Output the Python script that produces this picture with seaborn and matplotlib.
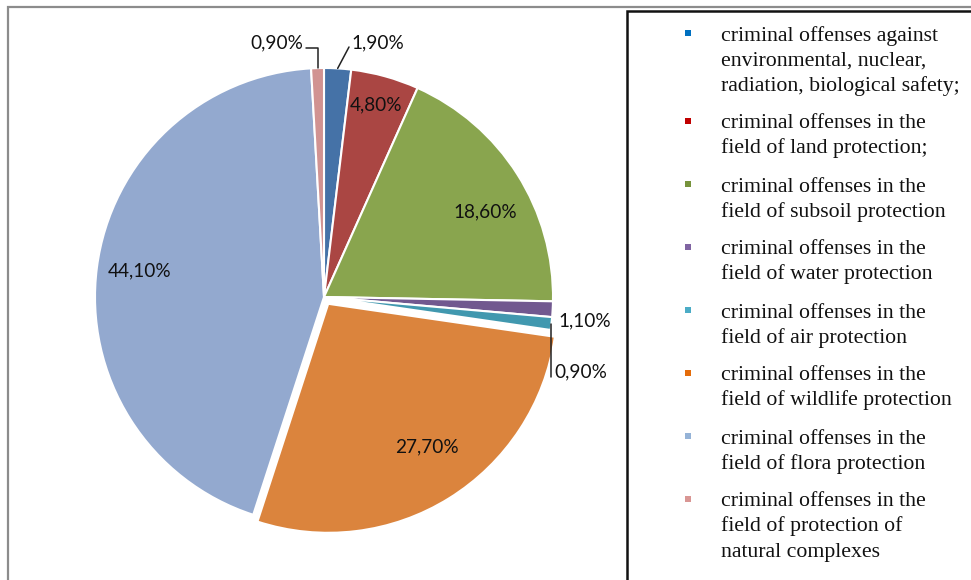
import matplotlib
matplotlib.use("Agg")
import numpy as np
import matplotlib.pyplot as plt
import seaborn as sns
from matplotlib.patches import Rectangle

# Shares of environmental criminal offenses, percent
categories = [
    "environmental, nuclear, radiation, biological safety",
    "land protection",
    "subsoil protection",
    "water protection",
    "air protection",
    "wildlife protection",
    "flora protection",
    "protection of natural complexes",
]
shares = [1.9, 4.8, 18.6, 1.1, 0.9, 27.7, 44.1, 0.9]
legend_labels = [
    "criminal offenses against\nenvironmental, nuclear,\nradiation, biological safety;",
    "criminal offenses in the\nfield of land protection;",
    "criminal offenses in the\nfield of subsoil protection",
    "criminal offenses in the\nfield of water protection",
    "criminal offenses in the\nfield of air protection",
    "criminal offenses in the\nfield of wildlife protection",
    "criminal offenses in the\nfield of flora protection",
    "criminal offenses in the\nfield of protection of\nnatural complexes",
]

wedge_colors = ["#4572A7", "#AA4643", "#89A54E", "#71588F",
                "#4198AF", "#DB843D", "#93A9CF", "#D19392"]
marker_colors = ["#0070C0", "#C00000", "#77933C", "#8064A2",
                 "#4BACC6", "#E46C0A", "#95B3D7", "#D99694"]

sns.set_theme(style="white")
plt.rcParams["font.family"] = ["Lato", "DejaVu Sans"]

W, H = 971, 580
fig = plt.figure(figsize=(W / 100, H / 100), dpi=100)
ax = fig.add_axes([0, 0, 1, 1])


def Y(y):
    """Convert a top-down pixel row into the axes' bottom-up coordinate."""
    return H - y


cx, cy, R = 324, Y(297), 229
explode = [0, 0, 0, 0, 0, 8, 0, 0]
wedges, _ = ax.pie(
    shares, colors=wedge_colors, startangle=90, counterclock=False,
    center=(cx, cy), radius=R, explode=explode,
    wedgeprops=dict(edgecolor="white", linewidth=1.5),
)
ax.set_xlim(0, W)
ax.set_ylim(0, H)
ax.set_aspect("auto")
ax.axis("off")

# Value labels: (x, y, horizontal alignment)
label_pos = [(351, 43, "left"), (376, 105, "center"), (485, 212, "center"),
             (558, 321, "left"), (554, 372, "left"), (427, 447, "center"),
             (140, 271, "center"), (303, 43, "right")]
for v, (x, y, ha) in zip(shares, label_pos):
    ax.text(x, Y(y), f"{v:.2f}%".replace(".", ","), ha=ha, va="center",
            fontsize=13.7, color="#111111")


def rim_point(w):
    th = np.deg2rad((w.theta1 + w.theta2) / 2)
    x0, y0 = w.center
    return x0 + w.r * np.cos(th), y0 + w.r * np.sin(th)


# Leader lines for the small outside labels
px, py = rim_point(wedges[7])
ax.plot([px, px, 306], [py, Y(48), Y(48)], color="#222222", lw=1.1)
bx, by = rim_point(wedges[0])
ax.plot([bx, 349], [by, Y(47)], color="#222222", lw=1.1)
tx, ty = rim_point(wedges[4])
ax.plot([tx, tx], [ty, Y(377)], color="#222222", lw=1.1)

# Chart area and legend frames
ax.plot([8, 8, W], [0, Y(7), Y(7)], color="#8c8c8c", lw=1.6,
        solid_joinstyle="miter")
ax.plot([627, 627, W], [0, Y(11), Y(11)], color="#111111", lw=1.8,
        solid_joinstyle="miter")

# Legend entries
y0 = 33
for lab, col in zip(legend_labels, marker_colors):
    lines = lab.split("\n")
    ax.add_patch(Rectangle((685, Y(y0) - 3), 6, 6, facecolor=col,
                           edgecolor="none"))
    for k, line in enumerate(lines):
        ax.text(721, Y(y0 + 7.5 + 25 * k), line, ha="left", va="baseline",
                fontsize=15.7, family=["Liberation Serif", "DejaVu Serif"],
                color="#111111")
    y0 += 25 * len(lines) + 13

fig.savefig("out.png", dpi=100, facecolor="white")
